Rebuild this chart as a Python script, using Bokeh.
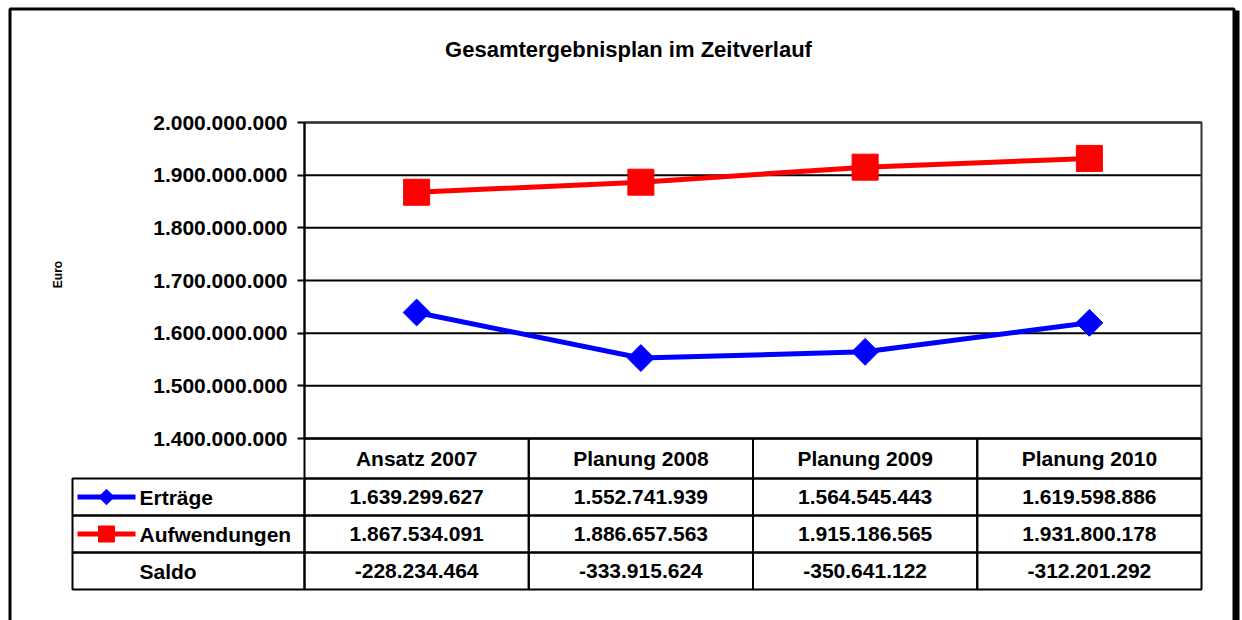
import math
from bokeh.plotting import figure
from bokeh.models import Range1d, FixedTicker, BoxAnnotation, Label
from bokeh.embed import file_html
from bokeh.resources import INLINE
from bokeh.core.properties import value

# ---------------- data ----------------
title_text = "Gesamtergebnisplan im Zeitverlauf"
y_title = "Euro"
categories = ["Ansatz 2007", "Planung 2008", "Planung 2009", "Planung 2010"]
ertraege = [1639299627, 1552741939, 1564545443, 1619598886]
aufwendungen = [1867534091, 1886657563, 1915186565, 1931800178]
saldo = [-228234464, -333915624, -350641122, -312201292]
row_labels = ["Erträge", "Aufwendungen", "Saldo"]
y_ticks = [1400000000, 1500000000, 1600000000, 1700000000,
           1800000000, 1900000000, 2000000000]
y_tick_labels = ["1.400.000.000", "1.500.000.000", "1.600.000.000",
                 "1.700.000.000", "1.800.000.000", "1.900.000.000",
                 "2.000.000.000"]


def de(v):
    return f"{v:,}".replace(",", ".")


# ---------------- layout (pixels on the canvas) ----------------
W, H = 1242, 620
PL, PR, PT, PB = 304, 1201, 122, 438      # plot area
row_edges = [438, 478, 515, 552, 589]      # table header + 3 rows
LEFT_COL = 72
FONT = "Liberation Sans"
BLUE = "#0000FF"
RED = "#FF0000"
NC = len(categories)

# value scale: plot area spans the tick range
Y0, Y1 = y_ticks[0], y_ticks[-1]
val_per_px = (Y1 - Y0) / (PB - PT)
# category scale: each category owns one table column of equal width
col_px = (PR - PL) / NC

p = figure(width=W, height=H, output_backend="svg", toolbar_location=None,
           x_range=Range1d(-PL / col_px, (W - PL) / col_px),
           y_range=Range1d(Y0 - (H - PB) * val_per_px, Y1 + PT * val_per_px),
           x_axis_location=None,
           min_border_left=0, min_border_right=0,
           min_border_top=0, min_border_bottom=0,
           outline_line_color=None, background_fill_color="white",
           border_fill_color="white")
p.extra_x_ranges = {"px": Range1d(0, W)}
p.extra_y_ranges = {"py": Range1d(H, 0)}

cat_x = [i + 0.5 for i in range(NC)]

# y axis, pinned at the left edge of the plot area
ax = p.yaxis[0]
ax.fixed_location = 0
ax.bounds = (Y0, Y1)
ax.ticker = FixedTicker(ticks=y_ticks)
ax.major_label_overrides = dict(zip(y_ticks, y_tick_labels))
ax.major_label_text_font = FONT
ax.major_label_text_font_style = "bold"
ax.major_label_text_font_size = "21px"
ax.major_label_text_color = "black"
ax.axis_line_width = 2
ax.axis_line_color = "black"
ax.major_tick_line_width = 2
ax.major_tick_line_color = "black"
ax.major_tick_in = 0
ax.major_tick_out = 7
ax.minor_tick_line_color = None
ax.major_label_standoff = 10

p.xgrid.visible = False
p.ygrid.visible = False

# horizontal gridlines inside the plot area
p.segment(x0=[0] * len(y_ticks), x1=[NC] * len(y_ticks), y0=y_ticks, y1=y_ticks,
          line_color="black", line_width=2)

# plot area border
p.quad(left=[PL], right=[PR], top=[PT], bottom=[PB],
       x_range_name="px", y_range_name="py",
       fill_color=None, line_color="#333333", line_width=2)

# table cells (category columns)
for r in range(len(row_edges) - 1):
    p.quad(left=list(range(NC)), right=[i + 1 for i in range(NC)],
           top=[row_edges[r]] * NC, bottom=[row_edges[r + 1]] * NC,
           y_range_name="py", fill_color=None, line_color="black",
           line_width=2)
# table cells (left label column)
for r in range(1, len(row_edges) - 1):
    p.quad(left=[LEFT_COL], right=[PL], top=[row_edges[r]],
           bottom=[row_edges[r + 1]], x_range_name="px", y_range_name="py",
           fill_color=None, line_color="black", line_width=2)

# series
p.line(x=cat_x, y=aufwendungen, line_color=RED, line_width=5)
p.scatter(x=cat_x, y=aufwendungen, marker="square", size=26,
          fill_color=RED, line_color=RED)
p.line(x=cat_x, y=ertraege, line_color=BLUE, line_width=5)
p.scatter(x=cat_x, y=ertraege, marker="square", angle=math.pi / 4,
          size=19, fill_color=BLUE, line_color=BLUE)

# table texts
centers = [(row_edges[r] + row_edges[r + 1]) / 2 for r in range(len(row_edges) - 1)]
txt_kw = dict(text_font=value(FONT), text_font_style="bold",
              text_font_size="21px", text_align="center",
              text_baseline="middle", text_color="black", y_range_name="py")
p.text(x=cat_x, y=[centers[0]] * NC, text=categories, **txt_kw)
for r, series in enumerate([ertraege, aufwendungen, saldo]):
    p.text(x=cat_x, y=[centers[r + 1]] * NC,
           text=[de(v) for v in series], **txt_kw)

# left column labels and legend keys
p.text(x=[139] * len(row_labels), y=centers[1:], text=row_labels,
       x_range_name="px", y_range_name="py",
       text_font=value(FONT), text_font_style="bold", text_font_size="21px",
       text_align="left", text_baseline="middle", text_color="black")
c1, c2 = centers[1], centers[2]
p.segment(x0=[77], x1=[135], y0=[c1], y1=[c1], x_range_name="px",
          y_range_name="py", line_color=BLUE, line_width=5)
p.scatter(x=[106], y=[c1], marker="square", angle=math.pi / 4, size=11,
          x_range_name="px", y_range_name="py",
          fill_color=BLUE, line_color=BLUE)
p.segment(x0=[77], x1=[135], y0=[c2], y1=[c2], x_range_name="px",
          y_range_name="py", line_color=RED, line_width=5)
p.scatter(x=[106], y=[c2], marker="square", size=16,
          x_range_name="px", y_range_name="py",
          fill_color=RED, line_color=RED)

# title and axis title
p.add_layout(Label(x=628, y=49, text=title_text,
                   x_range_name="px", y_range_name="py",
                   text_font=FONT, text_font_style="bold",
                   text_font_size="22px", text_align="center",
                   text_baseline="middle", text_color="black"))
p.add_layout(Label(x=57, y=274, text=y_title, angle=math.pi / 2,
                   x_range_name="px", y_range_name="py",
                   text_font=FONT, text_font_style="bold",
                   text_font_size="12px", text_align="center",
                   text_baseline="middle", text_color="black"))

# outer chart frame with shadow on the right
p.add_layout(BoxAnnotation(left=9.5, right=1233.5, top=8.5, bottom=700,
                           x_range_name="px", y_range_name="py",
                           fill_color=None, line_color="black",
                           line_alpha=1, line_width=3))
p.add_layout(BoxAnnotation(left=1233, right=1239, top=10, bottom=700,
                           x_range_name="px", y_range_name="py",
                           fill_color="black", fill_alpha=1, line_color=None))

open("out.html", "w").write(file_html(p, INLINE))
